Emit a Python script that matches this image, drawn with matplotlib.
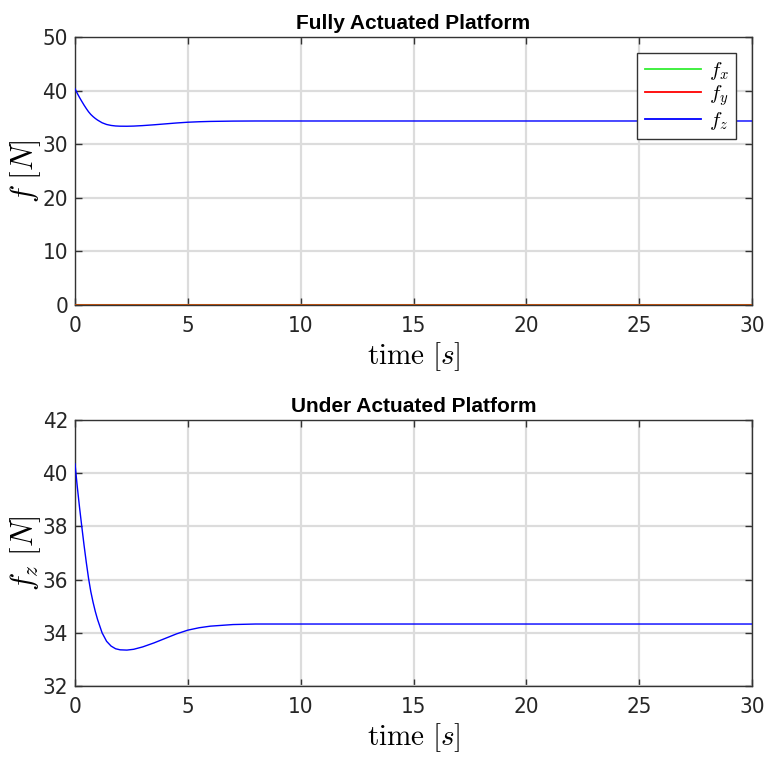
import matplotlib
matplotlib.use("Agg")
import matplotlib.pyplot as plt
from matplotlib.lines import Line2D

# ---- data ----
t = [0, 0.1, 0.2, 0.3, 0.4, 0.5, 0.6, 0.7, 0.8, 0.9, 1.0, 1.2, 1.4, 1.6, 1.8, 2.0,
     2.3, 2.6, 3.0, 3.5, 4.0, 4.5, 5.0, 5.5, 6.0, 7.0, 8.0, 10, 15, 20, 25, 30]
fz = [40.35, 39.5, 38.72, 38.0, 37.3, 36.65, 36.05, 35.55, 35.15, 34.8, 34.5, 34.0,
      33.68, 33.5, 33.4, 33.36, 33.35, 33.38, 33.47, 33.62, 33.79, 33.96, 34.1, 34.19,
      34.25, 34.31, 34.33, 34.33, 34.33, 34.33, 34.33, 34.33]
fx = [0.0] * len(t)
fy = [0.0] * len(t)

top_yticks = [0, 10, 20, 30, 40, 50]
bot_yticks = [32, 34, 36, 38, 40, 42]
xticks = [0, 5, 10, 15, 20, 25, 30]

plt.rcParams['mathtext.fontset'] = 'cm'

fig = plt.figure(figsize=(7.66, 7.63), dpi=100)
W, H = 766, 763
ax1 = fig.add_axes([75 / W, 1 - 305 / H, (752 - 75) / W, (305 - 37) / H])
ax2 = fig.add_axes([75 / W, 1 - 686 / H, (752 - 75) / W, (686 - 420) / H])

def style(ax, yt):
    ax.set_xlim(0, 30)
    ax.set_xticks(xticks)
    ax.set_ylim(yt[0], yt[-1])
    ax.set_yticks(yt)
    ax.grid(True, color='#dcdcdc', linewidth=1.6)
    ax.set_axisbelow(True)
    ax.tick_params(direction='in', top=True, right=True, length=5, width=1,
                   color='#333333', labelsize=16)
    ax.tick_params(axis='x', pad=8)
    ax.tick_params(axis='y', pad=5)
    for lab in ax.get_xticklabels() + ax.get_yticklabels():
        lab.set_family(['DejaVu Sans'])
        lab.set_stretch('condensed')
        lab.set_color('#262626')
    for s in ax.spines.values():
        s.set_color('#333333')
        s.set_linewidth(1.0)
    ax.set_xlabel(r'$\mathrm{time}\ [s]$', fontsize=21, labelpad=3)

style(ax1, top_yticks)
ax1.plot(t, fx, color='#22dd22', lw=1.3, zorder=3)
ax1.plot(t, fy, color='red', lw=1.3, alpha=0.7, zorder=3.1)
ax1.plot(t, fz, color='blue', lw=1.0, zorder=3)
ax1.set_ylabel(r'$f\ [N]$', fontsize=22)
ax1.yaxis.set_label_coords(-0.048, 0.5)
ax1.set_title('Fully Actuated Platform', fontsize=15, fontweight='bold',
              family=['Liberation Sans', 'DejaVu Sans'], pad=6)
handles = [Line2D([], [], color='#33ee33', lw=1.3),
           Line2D([], [], color='red', lw=1.3),
           Line2D([], [], color='blue', lw=1.3)]
leg = ax1.legend(handles, [r'$f_x$', r'$f_y$', r'$f_z$'], loc='upper right',
                 fontsize=15, frameon=True, fancybox=False, edgecolor='#333333',
                 handlelength=2.7, borderaxespad=0.75, labelspacing=0.08,
                 handletextpad=0.4, borderpad=0.35)
leg.get_frame().set_linewidth(1.0)
leg.get_frame().set_alpha(1)

style(ax2, bot_yticks)
ax2.plot(t, fz, color='blue', lw=1.0, zorder=3)
ax2.set_ylabel(r'$f_z\ [N]$', fontsize=22)
ax2.yaxis.set_label_coords(-0.048, 0.5)
ax2.set_title('Under Actuated Platform', fontsize=15, fontweight='bold',
              family=['Liberation Sans', 'DejaVu Sans'], pad=6)

fig.savefig('out.png', dpi=100)
